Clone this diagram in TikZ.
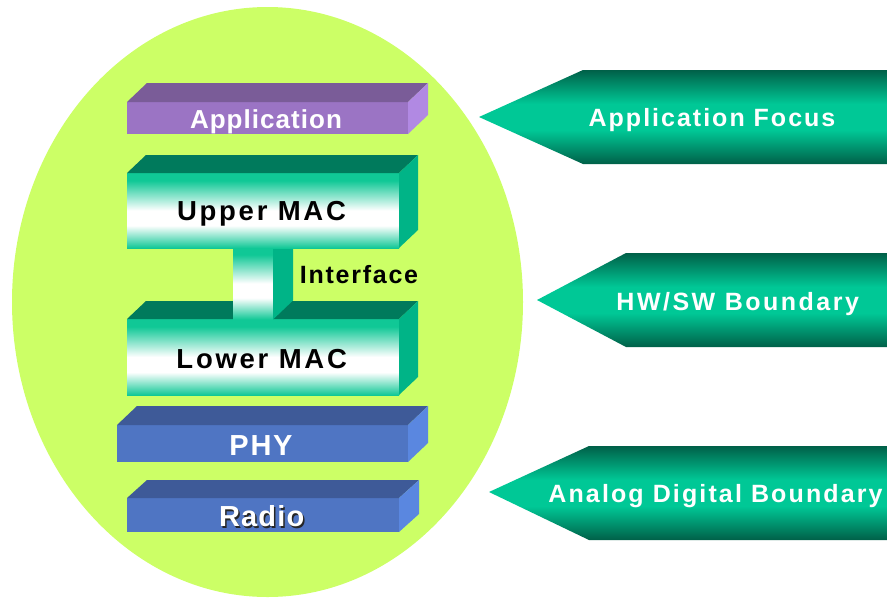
\documentclass[tikz,border=0pt]{standalone}
\usepackage{fontspec}
\setmainfont{Liberation Sans}
\definecolor{ell}{HTML}{CCFF66}
\definecolor{appF}{HTML}{9B74C4}
\definecolor{appT}{HTML}{7A5C98}
\definecolor{appS}{HTML}{B189E3}
\definecolor{grF}{HTML}{10C896}
\definecolor{grT}{HTML}{007A5C}
\definecolor{grS}{HTML}{00B487}
\definecolor{blF}{HTML}{4F75C3}
\definecolor{blT}{HTML}{3E5A98}
\definecolor{blS}{HTML}{5A87E0}
\definecolor{arD}{HTML}{006048}
\definecolor{arM}{HTML}{00C896}
\pgfdeclareverticalshading{gfront}{100bp}{color(0bp)=(grF); color(25bp)=(grF); color(40bp)=(white); color(50bp)=(white); color(70bp)=(grF); color(100bp)=(grF)}
\pgfdeclareverticalshading{arsh}{100bp}{color(0bp)=(arD); color(25bp)=(arD); color(43bp)=(arM); color(57bp)=(arM); color(75bp)=(arD); color(100bp)=(arD)}
\tikzset{
  face/.style={inner sep=0pt, outer sep=0pt, draw=none},
  lab/.style={anchor=base, inner sep=0pt, font=\bfseries},
  wlab/.style={lab, text=white},
  klab/.style={lab, text=black},
}
\begin{document}
\begin{tikzpicture}[x=1pt,y=-1pt]
\useasboundingbox (0,0) rectangle (887,598);
\fill[ell] (267.5,302) ellipse [x radius=255.5, y radius=295];

% Application
\node[face, fill=appF, minimum width=281, minimum height=32] (appf) at (267.5,118) {};
\fill[appT] (appf.north west) -- ++(20,-19) -- ++(281,0) -- (appf.north east) -- cycle;
\fill[appS] (appf.north east) -- ++(20,-19) -- ++(0,32) -- (appf.south east) -- cycle;

% Lower MAC
\node[face, shading=gfront, minimum width=272, minimum height=76] (lowf) at (263,357) {};
\fill[grT] (lowf.north west) -- ++(19,-18) -- ++(272,0) -- (lowf.north east) -- cycle;
\fill[grS] (lowf.north east) -- ++(19,-18) -- ++(0,76) -- (lowf.south east) -- cycle;

% Interface pillar
\node[face, shading=gfront, minimum width=40, minimum height=72] (pilf) at (253,283.5) {};
\fill[grS] (pilf.north east) -- ++(20,-19) -- ++(0,72) -- (pilf.south east) -- cycle;

% Upper MAC
\node[face, shading=gfront, minimum width=272, minimum height=75] (upf) at (263,210.5) {};
\fill[grT] (upf.north west) -- ++(19,-18) -- ++(272,0) -- (upf.north east) -- cycle;
\fill[grS] (upf.north east) -- ++(19,-18) -- ++(0,75) -- (upf.south east) -- cycle;

% PHY
\node[face, fill=blF, minimum width=291, minimum height=37] (phyf) at (262.5,443.5) {};
\fill[blT] (phyf.north west) -- ++(20,-19) -- ++(291,0) -- (phyf.north east) -- cycle;
\fill[blS] (phyf.north east) -- ++(20,-19) -- ++(0,37) -- (phyf.south east) -- cycle;

% Radio
\node[face, fill=blF, minimum width=272, minimum height=34] (radf) at (263,515) {};
\fill[blT] (radf.north west) -- ++(20,-18) -- ++(272,0) -- (radf.north east) -- cycle;
\fill[blS] (radf.north east) -- ++(20,-18) -- ++(0,34) -- (radf.south east) -- cycle;

% Arrows
\shade[shading=arsh] (479,117) -- (583,70) -- (889,70) -- (889,164) -- (583,164) -- cycle;
\shade[shading=arsh] (537,300) -- (626,253) -- (889,253) -- (889,347) -- (626,347) -- cycle;
\shade[shading=arsh] (489,492) -- (589,446) -- (889,446) -- (889,540) -- (589,540) -- cycle;

% Labels
\node[wlab, font=\bfseries\fontsize{26}{30}\selectfont\addfontfeature{LetterSpace=4}] (appt) at (266,128.3) {Application};
\node[klab, font=\bfseries\fontsize{27.5}{32}\selectfont\addfontfeature{LetterSpace=10}] (upt) at (261.5,220.7) {Upper MAC};
\node[klab, font=\bfseries\fontsize{27.5}{32}\selectfont\addfontfeature{LetterSpace=10}] (lowt) at (261.7,368) {Lower MAC};
\node[klab, font=\bfseries\fontsize{25}{30}\selectfont\addfontfeature{LetterSpace=7}] (intt) at (359,283) {Interface};
\node[wlab, font=\bfseries\fontsize{29}{34}\selectfont\addfontfeature{LetterSpace=6}] (phyt) at (261,455) {PHY};
\node[lab, text=black!85, font=\bfseries\fontsize{29}{34}\selectfont\addfontfeature{LetterSpace=4}] (radsh) at (263.2,528.2) {Radio};
\node[wlab, font=\bfseries\fontsize{29}{34}\selectfont\addfontfeature{LetterSpace=4}] (radt) at (261.7,526.7) {Radio};
\node[wlab, font=\bfseries\fontsize{25}{30}\selectfont\addfontfeature{LetterSpace=8}] (a1t) at (712,126.7) {Application Focus};
\node[wlab, font=\bfseries\fontsize{25}{30}\selectfont\addfontfeature{LetterSpace=10}] (a2t) at (737.7,310) {HW/SW Boundary};
\node[wlab, font=\bfseries\fontsize{25}{30}\selectfont\addfontfeature{LetterSpace=8.5}] (a3t) at (715.5,502.7) {Analog Digital Boundary};
\end{tikzpicture}
\end{document}
